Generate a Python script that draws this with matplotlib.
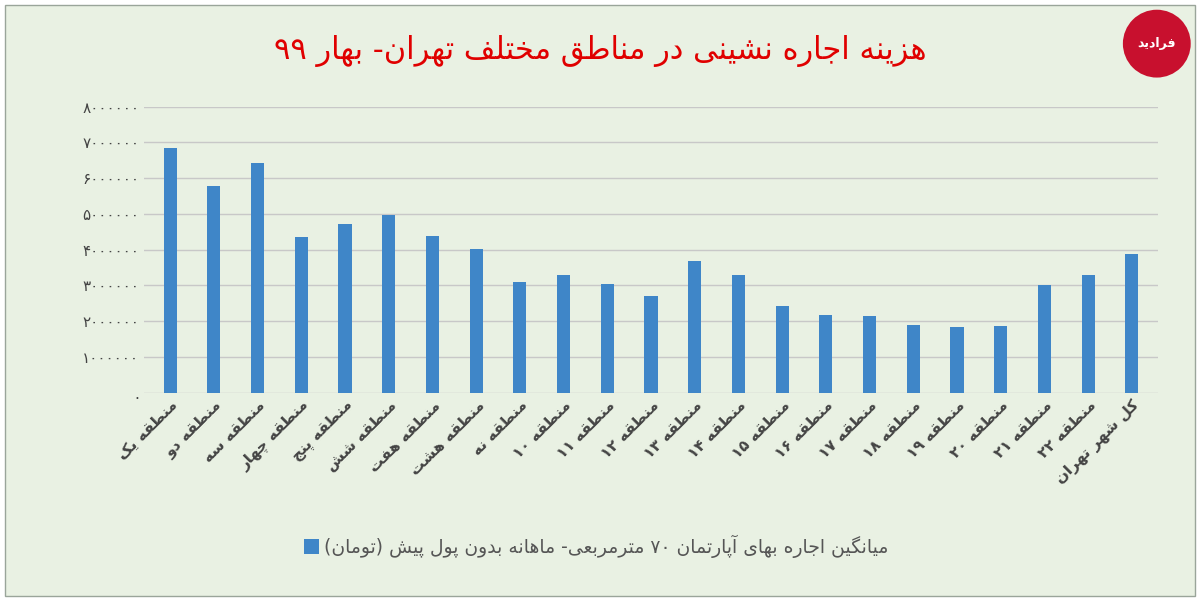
import matplotlib
matplotlib.use("Agg")
import matplotlib.pyplot as plt
import re

F = {
 'ا':(0xFE8D,0xFE8E,None,None),'آ':(0xFE81,0xFE82,None,None),
 'ب':(0xFE8F,0xFE90,0xFE91,0xFE92),'پ':(0xFB56,0xFB57,0xFB58,0xFB59),
 'ت':(0xFE95,0xFE96,0xFE97,0xFE98),'ج':(0xFE9D,0xFE9E,0xFE9F,0xFEA0),
 'چ':(0xFB7A,0xFB7B,0xFB7C,0xFB7D),'خ':(0xFEA5,0xFEA6,0xFEA7,0xFEA8),
 'د':(0xFEA9,0xFEAA,None,None),'ر':(0xFEAD,0xFEAE,None,None),
 'ز':(0xFEAF,0xFEB0,None,None),'س':(0xFEB1,0xFEB2,0xFEB3,0xFEB4),
 'ش':(0xFEB5,0xFEB6,0xFEB7,0xFEB8),'ط':(0xFEC1,0xFEC2,0xFEC3,0xFEC4),
 'ع':(0xFEC9,0xFECA,0xFECB,0xFECC),'ف':(0xFED1,0xFED2,0xFED3,0xFED4),
 'ق':(0xFED5,0xFED6,0xFED7,0xFED8),'ک':(0xFB8E,0xFB8F,0xFB90,0xFB91),
 'گ':(0xFB92,0xFB93,0xFB94,0xFB95),'ل':(0xFEDD,0xFEDE,0xFEDF,0xFEE0),
 'م':(0xFEE1,0xFEE2,0xFEE3,0xFEE4),'ن':(0xFEE5,0xFEE6,0xFEE7,0xFEE8),
 'و':(0xFEED,0xFEEE,None,None),'ه':(0xFEE9,0xFEEA,0xFEEB,0xFEEC),
 'ی':(0xFBFC,0xFBFD,0xFBFE,0xFBFF),
}
def fa(s):
    out = []
    for i, c in enumerate(s):
        if c not in F:
            out.append(c); continue
        p = s[i-1] if i > 0 else ''
        n = s[i+1] if i + 1 < len(s) else ''
        jp = p in F and F[p][2] is not None
        jn = n in F and F[c][2] is not None
        iso, fin, ini, med = F[c]
        if jp and jn: out.append(chr(med))
        elif jp: out.append(chr(fin))
        elif jn: out.append(chr(ini))
        else: out.append(chr(iso))
    sh = ''.join(out)
    runs = re.findall(r'[0-9۰-۹]+|[^0-9۰-۹]', sh)
    mir = {'(': ')', ')': '('}
    return ''.join(mir.get(r, r) for r in reversed(runs))

def pdig(n):
    return str(n).translate(str.maketrans('0123456789', '۰۱۲۳۴۵۶۷۸۹'))

categories = ['منطقه یک','منطقه دو','منطقه سه','منطقه چهار','منطقه پنج','منطقه شش',
              'منطقه هفت','منطقه هشت','منطقه نه','منطقه ۱۰','منطقه ۱۱','منطقه ۱۲',
              'منطقه ۱۳','منطقه ۱۴','منطقه ۱۵','منطقه ۱۶','منطقه ۱۷','منطقه ۱۸',
              'منطقه ۱۹','منطقه ۲۰','منطقه ۲۱','منطقه ۲۲','کل شهر تهران']
values = [6830000,5790000,6430000,4350000,4720000,4970000,4380000,4020000,3090000,
          3290000,3030000,2700000,3680000,3290000,2420000,2160000,2130000,1880000,
          1830000,1850000,3010000,3290000,3880000]
yticks = [0,1000000,2000000,3000000,4000000,5000000,6000000,7000000,8000000]
title = 'هزینه اجاره نشینی در مناطق مختلف تهران- بهار ۹۹'
legend_label = 'میانگین اجاره بهای آپارتمان ۷۰ مترمربعی- ماهانه بدون پول پیش (تومان)'

plt.rcParams['font.family'] = 'DejaVu Sans'
bg = '#e9f1e3'
fig = plt.figure(figsize=(12, 6.02), dpi=100, facecolor='white')
fig.patches.append(plt.Rectangle((0.004, 0.01), 0.992, 0.982, transform=fig.transFigure,
                                 facecolor=bg, edgecolor='#9aa59a', lw=1, zorder=-10))
ax = fig.add_axes([0.12, 0.348, 0.845, 0.475], zorder=5)
ax.set_facecolor('none')
x = list(range(len(values)))
ax.bar(x, values, width=0.3, color='#3f86c8', zorder=3)
ax.set_ylim(0, 8000000)
ax.set_xlim(-0.6, len(values) - 0.4)
ax.set_yticks(yticks)
ax.set_yticklabels(['.' if v == 0 else pdig(v) for v in yticks], fontsize=11, color='#444')
ax.grid(axis='y', color='#c8c8c8', lw=1, zorder=0)
for s in ax.spines.values(): s.set_visible(False)
ax.tick_params(length=0)
ax.set_xticks(x)
ax.set_xticklabels([fa(c) for c in categories], rotation=45, ha='right',
                   rotation_mode='anchor', fontsize=11, fontweight='bold', color='#444')
fig.text(0.5, 0.915, fa(title), ha='center', va='center', fontsize=22, color='#e00000')
fig.patches.append(plt.Rectangle((0.253, 0.08), 0.0125, 0.025, transform=fig.transFigure,
                                 facecolor='#3f86c8'))
fig.text(0.27, 0.092, fa(legend_label), ha='left', va='center', fontsize=13.5, color='#555')
lax = fig.add_axes([0.935, 0.87, 0.058, 0.115], zorder=6)
lax.set_xlim(-1, 1); lax.set_ylim(-1, 1); lax.set_aspect('equal'); lax.axis('off')
lax.add_patch(plt.Circle((0, 0), 0.98, facecolor='#c8102e'))
lax.text(0, 0, fa('فرادید'), ha='center', va='center', fontsize=9,
         color='white', fontweight='bold')
fig.savefig('out.png', dpi=100, facecolor='white')
